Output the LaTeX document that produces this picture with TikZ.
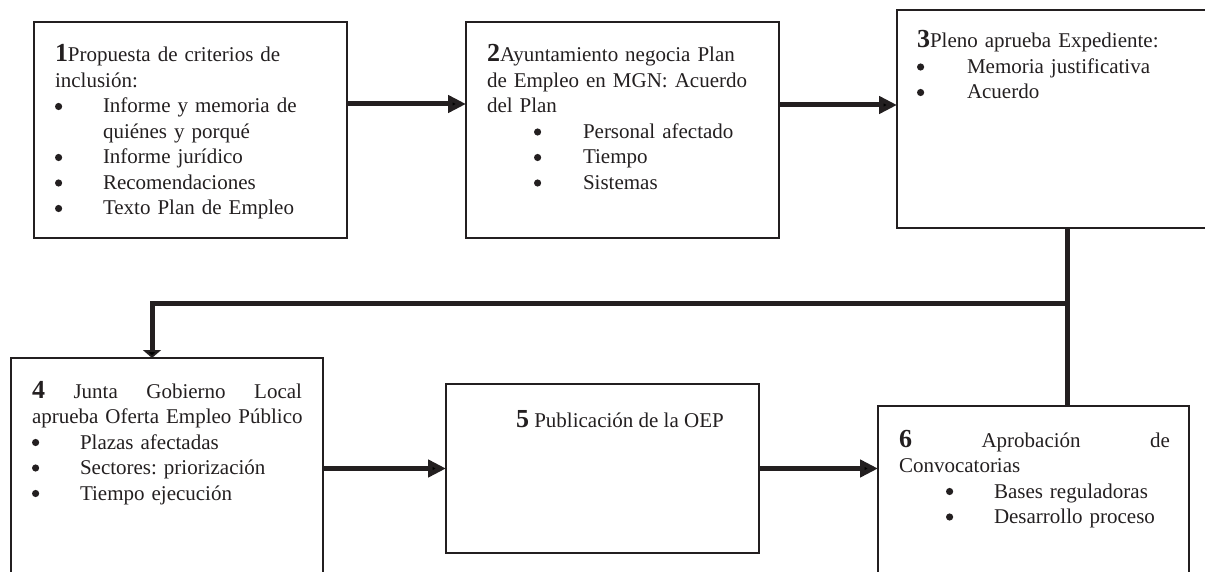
\documentclass[tikz,border=0pt]{standalone}
\usepackage{fontspec}
\setmainfont{Liberation Serif}
\usetikzlibrary{arrows.meta,calc}
\definecolor{ink}{HTML}{231F20}
\newcommand{\bodyfont}{\fontsize{21}{25.5}\selectfont\frenchspacing}
\newcommand{\stepnum}[1]{{\fontsize{26}{25.5}\selectfont\bfseries #1}}
\newcommand{\bulletdot}{\tikz[baseline=0pt]\fill[ink] (3.6pt,6.5pt) circle[radius=3.6pt];}
\newcommand{\mybul}[1]{\makebox[#1][l]{\bulletdot}}
\begin{document}
\begin{tikzpicture}[x=1pt,y=-1pt,
  box/.style={draw=ink, line width=1.5pt, anchor=north west, inner sep=0pt, outer sep=0pt},
  txt/.style={anchor=base west, inner sep=0pt, outer sep=0pt, align=left, font=\bodyfont, text=ink},
  conn/.style={draw=ink, line width=5pt, -{Triangle[length=18pt,width=17pt]}},
  stubconn/.style={draw=ink, line width=5pt, -{Triangle[length=8pt,width=18pt]}},
  link/.style={draw=ink, line width=5pt}]
\useasboundingbox (0,0) rectangle (1205,572);
\clip (0,0) rectangle (1205,572);
% boxes
\node[box, minimum width=313pt, minimum height=216pt] (b1) at (34,22) {};
\node[box, minimum width=313pt, minimum height=216pt] (b2) at (466,22) {};
\node[box, minimum width=340pt, minimum height=218pt] (b3) at (897,10) {};
\node[box, minimum width=312pt, minimum height=240pt] (b4) at (11,358) {};
\node[box, minimum width=313pt, minimum height=169pt] (b5) at (446,384) {};
\node[box, minimum width=311pt, minimum height=200pt] (b6) at (878,406) {};
% texts
\node[txt, text width=285pt] (t1) at (55,62) {\stepnum{1}Propuesta de criterios de\\
inclusión:\\
\mybul{48pt}Informe y memoria de\\
\hspace*{48pt}quiénes y porqué\\
\mybul{48pt}Informe jurídico\\
\mybul{48pt}Recomendaciones\\
\mybul{48pt}Texto Plan de Empleo};
\node[txt, text width=285pt] (t2) at (487,62) {\stepnum{2}Ayuntamiento negocia Plan\\
de Empleo en MGN: Acuerdo\\
del Plan\\
\hspace*{47pt}\mybul{49pt}Personal afectado\\
\hspace*{47pt}\mybul{49pt}Tiempo\\
\hspace*{47pt}\mybul{49pt}Sistemas};
\node[txt, text width=280pt] (t3) at (917,48) {\stepnum{3}Pleno aprueba Expediente:\\
\mybul{50pt}Memoria justificativa\\
\mybul{50pt}Acuerdo};
\node[txt, text width=270pt] (t4) at (32,398) {\stepnum{4}\hfill Junta\hfill Gobierno\hfill Local\\
\mbox{aprueba Oferta Empleo Público}\\
\mybul{48pt}Plazas afectadas\\
\mybul{48pt}Sectores: priorización\\
\mybul{48pt}Tiempo ejecución};
\node[txt] (t5) at (516,427) {\stepnum{5} Publicación de la OEP};
\node[txt, text width=271pt] (t6) at (899,447) {\stepnum{6}\hfill Aprobación\hfill de\\
Convocatorias\\
\hspace*{47pt}\mybul{48pt}Bases reguladoras\\
\hspace*{47pt}\mybul{48pt}Desarrollo proceso};
% connectors
\draw[conn] ([yshift=26pt]b1.east) -- ([yshift=26pt]b2.west);
\draw[conn] ([yshift=25pt]b2.east) -- ([yshift=25pt]b2.east -| b3.west);
\draw[link] (b3.south) -- (b3.south |- b6.north);
\coordinate (j) at (b3.south |- 0,303);
\draw[stubconn, line join=miter] (j) -| ([xshift=-15pt]b4.north);
\draw[conn] (b5.west -| b4.east) -- (b5.west);
\draw[conn] (b5.east) -- (b5.east -| b6.west);
\end{tikzpicture}
\end{document}
